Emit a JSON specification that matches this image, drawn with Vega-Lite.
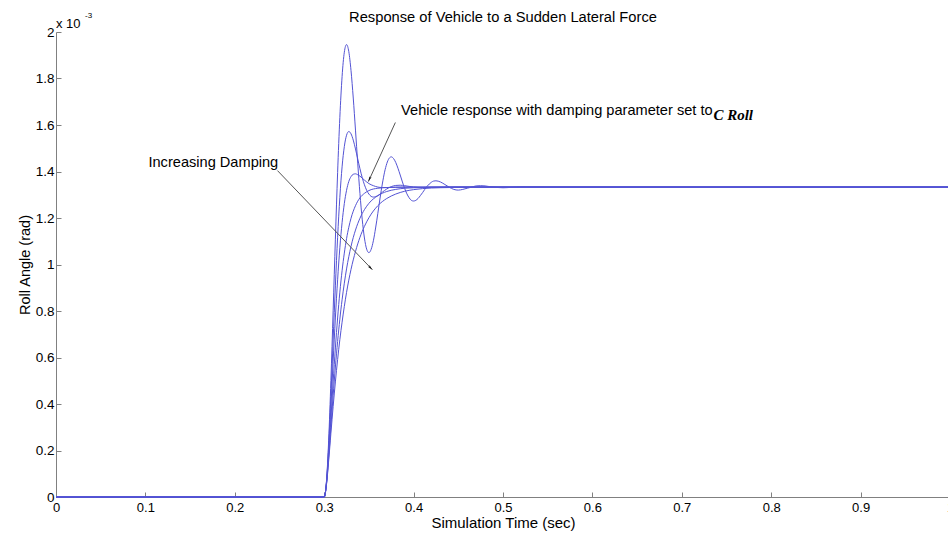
{
  "$schema": "https://vega.github.io/schema/vega-lite/v6.json",
  "autosize": {"type": "none"},
  "padding": {"left": 56, "top": 32, "right": 0, "bottom": 38},
  "width": 894,
  "height": 465,
  "background": "white",
  "config": {"view": {"stroke": null}},
  "datasets": {
    "curves": [
      {"c":"A","t":0,"v":0},{"c":"A","t":0.3,"v":0},{"c":"A","t":0.3025,"v":0.066},{"c":"A","t":0.305,"v":0.244},{"c":"A","t":0.3075,"v":0.501},{"c":"A","t":0.31,"v":0.801},{"c":"A","t":0.3125,"v":1.109},{"c":"A","t":0.315,"v":1.395},{"c":"A","t":0.3175,"v":1.633},{"c":"A","t":0.32,"v":1.808},{"c":"A","t":0.3225,"v":1.913},{"c":"A","t":0.325,"v":1.946},{"c":"A","t":0.3275,"v":1.916},{"c":"A","t":0.33,"v":1.834},{"c":"A","t":0.3325,"v":1.716},{"c":"A","t":0.335,"v":1.578},{"c":"A","t":0.3375,"v":1.436},{"c":"A","t":0.34,"v":1.305},{"c":"A","t":0.3425,"v":1.195},{"c":"A","t":0.345,"v":1.114},{"c":"A","t":0.3475,"v":1.066},{"c":"A","t":0.35,"v":1.051},{"c":"A","t":0.3525,"v":1.065},{"c":"A","t":0.355,"v":1.102},{"c":"A","t":0.3575,"v":1.157},{"c":"A","t":0.36,"v":1.22},{"c":"A","t":0.3625,"v":1.286},{"c":"A","t":0.365,"v":1.346},{"c":"A","t":0.3675,"v":1.397},{"c":"A","t":0.37,"v":1.434},{"c":"A","t":0.3725,"v":1.456},{"c":"A","t":0.375,"v":1.463},{"c":"A","t":0.3775,"v":1.456},{"c":"A","t":0.38,"v":1.439},{"c":"A","t":0.3825,"v":1.414},{"c":"A","t":0.385,"v":1.385},{"c":"A","t":0.3875,"v":1.355},{"c":"A","t":0.39,"v":1.327},{"c":"A","t":0.3925,"v":1.304},{"c":"A","t":0.395,"v":1.287},{"c":"A","t":0.3975,"v":1.276},{"c":"A","t":0.4,"v":1.273},{"c":"A","t":0.4025,"v":1.276},{"c":"A","t":0.405,"v":1.284},{"c":"A","t":0.4075,"v":1.296},{"c":"A","t":0.41,"v":1.309},{"c":"A","t":0.4125,"v":1.323},{"c":"A","t":0.415,"v":1.336},{"c":"A","t":0.4175,"v":1.346},{"c":"A","t":0.42,"v":1.354},{"c":"A","t":0.4225,"v":1.359},{"c":"A","t":0.425,"v":1.36},{"c":"A","t":0.43,"v":1.355},{"c":"A","t":0.435,"v":1.344},{"c":"A","t":0.44,"v":1.332},{"c":"A","t":0.445,"v":1.323},{"c":"A","t":0.45,"v":1.32},{"c":"A","t":0.455,"v":1.323},{"c":"A","t":0.46,"v":1.328},{"c":"A","t":0.465,"v":1.333},{"c":"A","t":0.47,"v":1.338},{"c":"A","t":0.475,"v":1.339},{"c":"A","t":0.48,"v":1.338},{"c":"A","t":0.485,"v":1.335},{"c":"A","t":0.49,"v":1.333},{"c":"A","t":0.495,"v":1.331},{"c":"A","t":0.5,"v":1.33},{"c":"A","t":0.51,"v":1.332},{"c":"A","t":0.52,"v":1.334},{"c":"A","t":0.55,"v":1.333},{"c":"A","t":1.0,"v":1.333},
      {"c":"B","t":0,"v":0},{"c":"B","t":0.3,"v":0},{"c":"B","t":0.3025,"v":0.063},{"c":"B","t":0.305,"v":0.221},{"c":"B","t":0.3075,"v":0.437},{"c":"B","t":0.31,"v":0.675},{"c":"B","t":0.3125,"v":0.908},{"c":"B","t":0.315,"v":1.117},{"c":"B","t":0.3175,"v":1.289},{"c":"B","t":0.32,"v":1.42},{"c":"B","t":0.3225,"v":1.507},{"c":"B","t":0.325,"v":1.556},{"c":"B","t":0.3275,"v":1.572},{"c":"B","t":0.33,"v":1.562},{"c":"B","t":0.3325,"v":1.535},{"c":"B","t":0.335,"v":1.497},{"c":"B","t":0.3375,"v":1.454},{"c":"B","t":0.34,"v":1.412},{"c":"B","t":0.3425,"v":1.374},{"c":"B","t":0.345,"v":1.343},{"c":"B","t":0.3475,"v":1.319},{"c":"B","t":0.35,"v":1.303},{"c":"B","t":0.3525,"v":1.293},{"c":"B","t":0.355,"v":1.29},{"c":"B","t":0.3575,"v":1.292},{"c":"B","t":0.36,"v":1.296},{"c":"B","t":0.365,"v":1.311},{"c":"B","t":0.37,"v":1.325},{"c":"B","t":0.375,"v":1.335},{"c":"B","t":0.38,"v":1.34},{"c":"B","t":0.385,"v":1.341},{"c":"B","t":0.39,"v":1.339},{"c":"B","t":0.395,"v":1.336},{"c":"B","t":0.4,"v":1.333},{"c":"B","t":0.41,"v":1.331},{"c":"B","t":0.42,"v":1.332},{"c":"B","t":0.44,"v":1.333},{"c":"B","t":1.0,"v":1.333},
      {"c":"C","t":0,"v":0},{"c":"C","t":0.3,"v":0},{"c":"C","t":0.3025,"v":0.06},{"c":"C","t":0.305,"v":0.204},{"c":"C","t":0.3075,"v":0.388},{"c":"C","t":0.31,"v":0.584},{"c":"C","t":0.3125,"v":0.77},{"c":"C","t":0.315,"v":0.934},{"c":"C","t":0.3175,"v":1.072},{"c":"C","t":0.32,"v":1.18},{"c":"C","t":0.3225,"v":1.262},{"c":"C","t":0.325,"v":1.319},{"c":"C","t":0.3275,"v":1.357},{"c":"C","t":0.33,"v":1.378},{"c":"C","t":0.3325,"v":1.388},{"c":"C","t":0.335,"v":1.39},{"c":"C","t":0.3375,"v":1.386},{"c":"C","t":0.34,"v":1.38},{"c":"C","t":0.345,"v":1.363},{"c":"C","t":0.35,"v":1.348},{"c":"C","t":0.355,"v":1.339},{"c":"C","t":0.36,"v":1.333},{"c":"C","t":0.365,"v":1.331},{"c":"C","t":0.37,"v":1.331},{"c":"C","t":0.38,"v":1.332},{"c":"C","t":0.4,"v":1.333},{"c":"C","t":1.0,"v":1.333},
      {"c":"D","t":0,"v":0},{"c":"D","t":0.3,"v":0},{"c":"D","t":0.3025,"v":0.056},{"c":"D","t":0.305,"v":0.183},{"c":"D","t":0.3075,"v":0.338},{"c":"D","t":0.31,"v":0.495},{"c":"D","t":0.3125,"v":0.641},{"c":"D","t":0.315,"v":0.77},{"c":"D","t":0.3175,"v":0.881},{"c":"D","t":0.32,"v":0.973},{"c":"D","t":0.3225,"v":1.049},{"c":"D","t":0.325,"v":1.111},{"c":"D","t":0.3275,"v":1.16},{"c":"D","t":0.33,"v":1.199},{"c":"D","t":0.335,"v":1.253},{"c":"D","t":0.34,"v":1.287},{"c":"D","t":0.345,"v":1.306},{"c":"D","t":0.35,"v":1.318},{"c":"D","t":0.36,"v":1.328},{"c":"D","t":0.37,"v":1.331},{"c":"D","t":0.38,"v":1.3326},{"c":"D","t":0.4,"v":1.333},{"c":"D","t":1.0,"v":1.333},
      {"c":"E","t":0,"v":0},{"c":"E","t":0.3,"v":0},{"c":"E","t":0.3025,"v":0.054},{"c":"E","t":0.305,"v":0.169},{"c":"E","t":0.3075,"v":0.303},{"c":"E","t":0.31,"v":0.436},{"c":"E","t":0.3125,"v":0.559},{"c":"E","t":0.315,"v":0.669},{"c":"E","t":0.3175,"v":0.765},{"c":"E","t":0.32,"v":0.848},{"c":"E","t":0.325,"v":0.981},{"c":"E","t":0.33,"v":1.078},{"c":"E","t":0.335,"v":1.148},{"c":"E","t":0.34,"v":1.199},{"c":"E","t":0.345,"v":1.236},{"c":"E","t":0.35,"v":1.263},{"c":"E","t":0.36,"v":1.296},{"c":"E","t":0.37,"v":1.314},{"c":"E","t":0.38,"v":1.323},{"c":"E","t":0.39,"v":1.328},{"c":"E","t":0.4,"v":1.33},{"c":"E","t":0.42,"v":1.332},{"c":"E","t":0.45,"v":1.333},{"c":"E","t":1.0,"v":1.333},
      {"c":"F","t":0,"v":0},{"c":"F","t":0.3,"v":0},{"c":"F","t":0.3025,"v":0.051},{"c":"F","t":0.305,"v":0.156},{"c":"F","t":0.3075,"v":0.274},{"c":"F","t":0.31,"v":0.389},{"c":"F","t":0.3125,"v":0.495},{"c":"F","t":0.315,"v":0.591},{"c":"F","t":0.3175,"v":0.677},{"c":"F","t":0.32,"v":0.752},{"c":"F","t":0.325,"v":0.88},{"c":"F","t":0.33,"v":0.979},{"c":"F","t":0.335,"v":1.056},{"c":"F","t":0.34,"v":1.117},{"c":"F","t":0.345,"v":1.164},{"c":"F","t":0.35,"v":1.201},{"c":"F","t":0.36,"v":1.253},{"c":"F","t":0.37,"v":1.284},{"c":"F","t":0.38,"v":1.303},{"c":"F","t":0.39,"v":1.315},{"c":"F","t":0.4,"v":1.322},{"c":"F","t":0.42,"v":1.329},{"c":"F","t":0.44,"v":1.331},{"c":"F","t":0.47,"v":1.3328},{"c":"F","t":0.5,"v":1.333},{"c":"F","t":1.0,"v":1.333}
    ]
  },
  "layer": [
    {
      "data": {"name": "curves"},
      "mark": {"type": "line", "color": "#5353d4", "strokeWidth": 1, "interpolate": "monotone"},
      "encoding": {
        "x": {"field": "t", "type": "quantitative", "scale": {"domain": [0, 1], "nice": false},
          "axis": {"values": [0,0.1,0.2,0.3,0.4,0.5,0.6,0.7,0.8,0.9,1], "format": ".1~f", "grid": false, "tickSize": -5, "labelPadding": 9, "domainColor": "#808080", "tickColor": "#808080", "labelColor": "#000000", "labelFont": "Liberation Sans", "labelFontSize": 13, "title": "Simulation Time (sec)", "titleFont": "Liberation Sans", "titleFontSize": 15, "titleFontWeight": "normal", "titleColor": "#000000", "titlePadding": 1, "labelFlush": false}},
        "y": {"field": "v", "type": "quantitative", "scale": {"domain": [0, 2], "nice": false},
          "axis": {"values": [0,0.2,0.4,0.6,0.8,1,1.2,1.4,1.6,1.8,2], "format": ".1~f", "grid": false, "tickSize": -5, "labelPadding": 7, "domainColor": "#808080", "tickColor": "#808080", "labelColor": "#000000", "labelFont": "Liberation Sans", "labelFontSize": 13.5, "title": "Roll Angle (rad)", "titleFont": "Liberation Sans", "titleFontSize": 14.5, "titleFontWeight": "normal", "titleColor": "#000000", "titlePadding": 3, "labelFlush": false}},
        "detail": {"field": "c"}
      }
    },
    {
      "data": {"values": [{"x": 0.2477, "y": 1.404, "x2": 0.3539, "y2": 0.9776}, {"x": 0.3796, "y": 1.6107, "x2": 0.3494, "y2": 1.3566}]},
      "mark": {"type": "rule", "color": "#555555", "strokeWidth": 1},
      "encoding": {"x": {"field": "x", "type": "quantitative"}, "y": {"field": "y", "type": "quantitative"}, "x2": {"field": "x2"}, "y2": {"field": "y2"}}
    },
    {
      "data": {"values": [{"x": 0.3539, "y": 0.9776}]},
      "mark": {"type": "point", "shape": "M0,0L0.4,1.8L0,1.4L-0.4,1.8Z", "filled": true, "color": "#111111", "opacity": 1, "size": 36, "angle": 136},
      "encoding": {"x": {"field": "x", "type": "quantitative"}, "y": {"field": "y", "type": "quantitative"}}
    },
    {
      "data": {"values": [{"x": 0.3494, "y": 1.3566}]},
      "mark": {"type": "point", "shape": "M0,0L0.4,1.8L0,1.4L-0.4,1.8Z", "filled": true, "color": "#111111", "opacity": 1, "size": 36, "angle": 203.5},
      "encoding": {"x": {"field": "x", "type": "quantitative"}, "y": {"field": "y", "type": "quantitative"}}
    },
    {
      "data": {"values": [{"x": 0.1034, "y": 1.4384, "label": "Increasing Damping"}, {"x": 0.386, "y": 1.66, "label": "Vehicle response with damping parameter set to"}]},
      "mark": {"type": "text", "align": "left", "baseline": "middle", "font": "Liberation Sans", "fontSize": 14.6, "color": "#000000"},
      "encoding": {"x": {"field": "x", "type": "quantitative"}, "y": {"field": "y", "type": "quantitative"}, "text": {"field": "label"}}
    },
    {
      "data": {"values": [{"x": 0.7354, "y": 1.645, "label": "C Roll"}]},
      "mark": {"type": "text", "align": "left", "baseline": "middle", "font": "Liberation Serif", "fontSize": 15, "fontWeight": "bold", "fontStyle": "italic", "color": "#000000"},
      "encoding": {"x": {"field": "x", "type": "quantitative"}, "y": {"field": "y", "type": "quantitative"}, "text": {"field": "label"}}
    },
    {
      "data": {"values": [{"x": 0.5, "y": 2, "label": "Response of Vehicle to a Sudden Lateral Force"}]},
      "mark": {"type": "text", "align": "center", "baseline": "alphabetic", "dy": -10, "font": "Liberation Sans", "fontSize": 14.7, "color": "#000000"},
      "encoding": {"x": {"field": "x", "type": "quantitative"}, "y": {"field": "y", "type": "quantitative"}, "text": {"field": "label"}}
    },
    {
      "data": {"values": [{"x": 0, "y": 2, "label": "x 10"}]},
      "mark": {"type": "text", "align": "left", "baseline": "alphabetic", "dx": 0, "dy": -4, "font": "Liberation Sans", "fontSize": 13, "color": "#000000"},
      "encoding": {"x": {"field": "x", "type": "quantitative"}, "y": {"field": "y", "type": "quantitative"}, "text": {"field": "label"}}
    },
    {
      "data": {"values": [{"x": 0, "y": 2, "label": "-3"}]},
      "mark": {"type": "text", "align": "left", "baseline": "alphabetic", "dx": 29, "dy": -14, "font": "Liberation Sans", "fontSize": 8, "color": "#000000"},
      "encoding": {"x": {"field": "x", "type": "quantitative"}, "y": {"field": "y", "type": "quantitative"}, "text": {"field": "label"}}
    }
  ]
}
